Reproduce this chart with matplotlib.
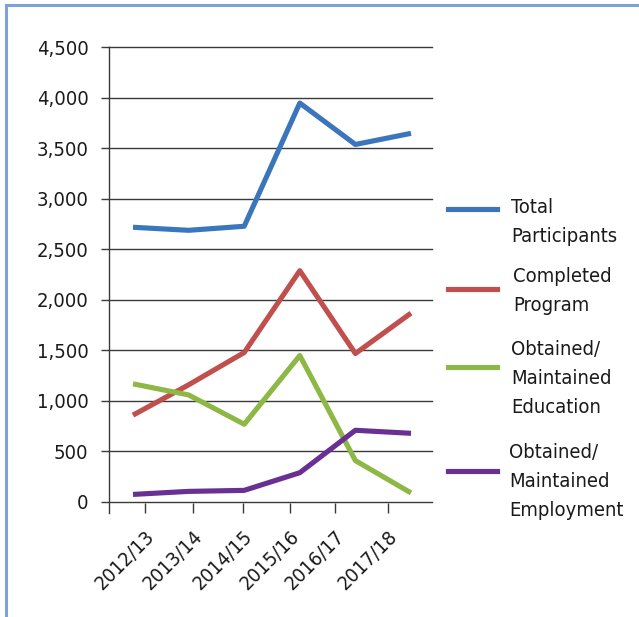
import matplotlib
matplotlib.use("Agg")
import matplotlib.pyplot as plt
from matplotlib.lines import Line2D
from matplotlib.ticker import FuncFormatter

# ---------------- data ----------------
years = ["2012/13", "2013/14", "2014/15", "2015/16", "2016/17", "2017/18"]
total_participants = [2720, 2690, 2730, 3950, 3540, 3650]
completed_program = [860, 1160, 1480, 2290, 1470, 1870]
obtained_education = [1170, 1060, 770, 1450, 410, 90]
obtained_employment = [75, 105, 115, 290, 710, 680]
series_labels = ["Total\nParticipants", "Completed\nProgram",
                 "Obtained/\nMaintained\nEducation",
                 "Obtained/\nMaintained\nEmployment"]
y_ticks = [0, 500, 1000, 1500, 2000, 2500, 3000, 3500, 4000, 4500]

# ---------------- style ----------------
plt.rcParams['font.family'] = ['DejaVu Sans']
plt.rcParams['font.stretch'] = 'condensed'
FS = 14.5
colors = ["#3B76BC", "#C0504D", "#8DB845", "#6A2F92"]
grid_col = "#3a3a3a"
text_col = "#1a1a1a"

fig = plt.figure(figsize=(6.39, 6.17), dpi=100)
W, H = 639, 617
ax = fig.add_axes([109 / W, 1 - 513 / H, (432 - 109) / W, (513 - 47.5) / H])

xs = list(range(len(years)))
for vals, c in zip([total_participants, completed_program,
                    obtained_education, obtained_employment], colors):
    ax.plot(xs, vals, color=c, lw=3.7, solid_capstyle='butt', zorder=3)

ax.set_xlim(-0.432, 5.378)
ax.set_ylim(-109, 4500)

for v in y_ticks:
    ax.axhline(v, color=grid_col, lw=1.0, zorder=1, clip_on=False)

ax.set_yticks(y_ticks)
ax.yaxis.set_major_formatter(FuncFormatter(lambda v, p: f"{int(v):,}"))
ax.tick_params(axis='y', direction='out', length=5.8, width=1.0, color=grid_col,
               pad=9, labelsize=FS, labelcolor=text_col)

tick_pos = [0.216, 1.079, 1.978, 2.824, 3.633, 4.586]
ax.set_xticks(tick_pos)
ax.set_xticklabels(years, rotation=45, ha='right', rotation_mode='anchor')
ax.tick_params(axis='x', direction='in', length=7, width=1.0, color=grid_col,
               pad=10, labelsize=FS, labelcolor=text_col)

for s in ['top', 'right', 'bottom']:
    ax.spines[s].set_visible(False)
ax.spines['left'].set_color(grid_col)
ax.spines['left'].set_linewidth(1.0)

# ---------------- manual legend ----------------
leg_line_y = [209, 289, 367, 471]
leg_text_top = [198, 267, 340, 443]
leg_text_x = [511, 513, 511, 509]
for lab, c, ly, ty, tx in zip(series_labels, colors, leg_line_y, leg_text_top, leg_text_x):
    fig.add_artist(Line2D([448 / W, 497 / W], [1 - ly / H, 1 - ly / H],
                          color=c, lw=3.7, transform=fig.transFigure))
    fig.text(tx / W, 1 - ty / H, lab, ha='left', va='top', fontsize=FS,
             color=text_col, linespacing=1.66)

# ---------------- frame ----------------
frame_col = "#7DA2D8"
fig.add_artist(Line2D([6 / W, 1.0], [1 - 5 / H, 1 - 5 / H], color=frame_col, lw=2.2,
                      transform=fig.transFigure))
fig.add_artist(Line2D([6 / W, 6 / W], [0, 1 - 5 / H], color=frame_col, lw=2.2,
                      transform=fig.transFigure))

fig.savefig("out.png", dpi=100)
